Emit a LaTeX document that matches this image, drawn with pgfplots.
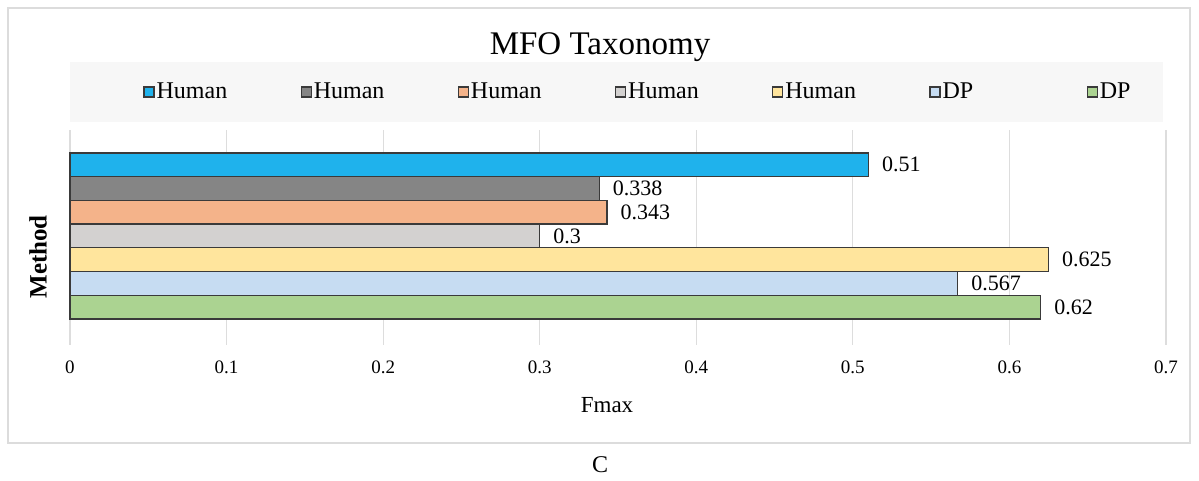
\documentclass[border=0pt]{standalone}
\usepackage{fontspec}
\setmainfont{Liberation Serif}
\usepackage{pgfplots}
\pgfplotsset{compat=1.18}

\definecolor{cBlue}{HTML}{1FB2EC}
\definecolor{cGray}{HTML}{858585}
\definecolor{cSalmon}{HTML}{F4B38A}
\definecolor{cLight}{HTML}{D3D1D0}
\definecolor{cYellow}{HTML}{FFE59D}
\definecolor{cPale}{HTML}{C6DCF2}
\definecolor{cGreen}{HTML}{ABD391}
\definecolor{frame}{HTML}{DCDCDC}
\definecolor{legbg}{HTML}{F7F7F7}
\definecolor{gridc}{HTML}{DDDDDD}
\definecolor{edge}{HTML}{3A3A3A}

\pgfplotsset{
  hbar/.style={xbar, bar width=1, bar shift=0pt, draw=edge, line width=0.6pt,
    legend image code/.code={\draw[##1, line width=0.6pt] (0pt,-2.5pt) rectangle (5pt,2.5pt);}},
}

\begin{document}
\begin{tikzpicture}
% outer frame
\draw[frame, line width=0.6pt] (4pt,19pt) rectangle (595pt,236.5pt);
% legend band
\fill[legbg] (35pt,179.5pt) rectangle (581.5pt,209.5pt);
% title and panel letter
\node[font=\fontsize{16.5}{19}\selectfont] at (300pt,217pt) {MFO Taxonomy};
\node[font=\fontsize{12}{14}\selectfont] at (300pt,8pt) {C};

\begin{axis}[
  at={(35pt,68pt)}, anchor=south west,
  scale only axis, width=548pt, height=107.5pt,
  xmin=0, xmax=0.7, ymin=-0.6, ymax=8.47,
  enlargelimits=false, clip=false,
  axis line style={draw=none},
  major tick length=0pt,
  ytick=\empty,
  xtick={0,0.1,0.2,0.3,0.4,0.5,0.6,0.7},
  xticklabels={0,0.1,0.2,0.3,0.4,0.5,0.6,0.7},
  xticklabel style={anchor=center, yshift=-11pt, font=\fontsize{9.5}{11}\selectfont},
  xmajorgrids, grid style={draw=gridc, line width=0.6pt},
  xlabel={Fmax},
  xlabel style={at={(axis description cs:0.49,0)}, anchor=center, yshift=-30pt,
    font=\fontsize{11.5}{13}\selectfont},
  ylabel={Method},
  ylabel style={at={(axis description cs:-0.0292,0.41)}, anchor=center,
    font=\fontsize{12.5}{14}\selectfont\bfseries},
  point meta=x,
  nodes near coords,
  nodes near coords style={anchor=west, inner sep=0pt, xshift=6.5pt,
    font=\fontsize{11}{13}\selectfont, text=black,
    /pgf/number format/precision=3, /pgf/number format/assume math mode=true},
  legend columns=7,
  legend style={at={(axis description cs:0.0666,1.1767)}, anchor=west,
    draw=none, fill=none, inner sep=0pt, column sep=0pt,
    nodes={inner sep=1pt, text width=71pt, align=left,
      font=\fontsize{12}{14}\selectfont}},
]
\addplot[hbar, fill=cBlue]   coordinates {(0.51,7)};
\addlegendentry{Human}
\addplot[hbar, fill=cGray]   coordinates {(0.338,6)};
\addlegendentry{Human}
\addplot[hbar, fill=cSalmon] coordinates {(0.343,5)};
\addlegendentry{Human}
\addplot[hbar, fill=cLight]  coordinates {(0.3,4)};
\addlegendentry{Human}
\addplot[hbar, fill=cYellow] coordinates {(0.625,3)};
\addlegendentry{Human}
\addplot[hbar, fill=cPale]   coordinates {(0.567,2)};
\addlegendentry{DP}
\addplot[hbar, fill=cGreen]  coordinates {(0.62,1)};
\addlegendentry[text width=20pt]{DP}
\end{axis}
% page extent
\pgfresetboundingbox
\path (0,0) rectangle (599.5pt,240.5pt);
\end{tikzpicture}
\end{document}
